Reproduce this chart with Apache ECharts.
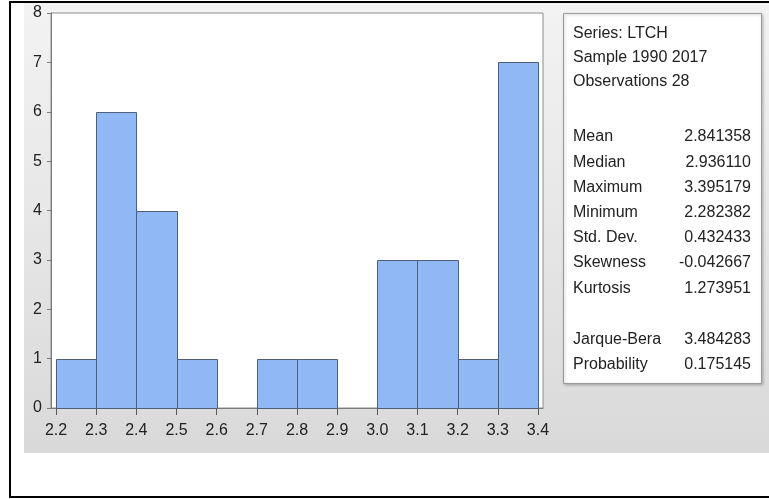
<!DOCTYPE html>
<html>
<head>
<meta charset="utf-8">
<title>LTCH histogram</title>
<script src="https://cdn.jsdelivr.net/npm/echarts@6/dist/echarts.min.js"></script>
<style>
  html, body { margin: 0; padding: 0; background: #ffffff; }
  #chart { width: 769px; height: 499px; }
</style>
</head>
<body>
<div id="chart"></div>
<script>
// Histogram bins (left edge, right edge) and observation counts
var binStart = [2.2, 2.3, 2.4, 2.5, 2.6, 2.7, 2.8, 2.9, 3.0, 3.1, 3.2, 3.3];
var binEnd   = [2.3, 2.4, 2.5, 2.6, 2.7, 2.8, 2.9, 3.0, 3.1, 3.2, 3.3, 3.4];
var counts   = [1, 6, 4, 1, 0, 1, 1, 0, 3, 3, 1, 7];

// Axis tick labels
var xTicks = [2.2, 2.3, 2.4, 2.5, 2.6, 2.7, 2.8, 2.9, 3.0, 3.1, 3.2, 3.3, 3.4];

// Descriptive statistics panel
var headerLines = ['Series: LTCH', 'Sample 1990 2017', 'Observations 28'];
var statNames  = ['Mean', 'Median', 'Maximum', 'Minimum', 'Std. Dev.', 'Skewness', 'Kurtosis'];
var statValues = ['2.841358', '2.936110', '3.395179', '2.282382', '0.432433', '-0.042667', '1.273951'];
var testNames  = ['Jarque-Bera', 'Probability'];
var testValues = ['3.484283', '0.175145'];

var chart = echarts.init(document.getElementById('chart'), null, { renderer: 'canvas' });

var binData = binStart.map(function (s, i) { return [s, binEnd[i], counts[i]]; });

var FONT = '"Liberation Sans", Arial, sans-serif';
var TEXT_COLOR = '#222222';

var graphics = [];

// gray panel behind the chart
graphics.push({
  type: 'rect', z: -10, silent: true,
  shape: { x: 24, y: 3, width: 760, height: 450 },
  style: {
    fill: new echarts.graphic.LinearGradient(0, 0, 0, 1, [
      { offset: 0, color: '#f3f3f3' },
      { offset: 1, color: '#d9d9d9' }
    ])
  }
});

// outer frame
graphics.push({
  type: 'rect', z: 50, silent: true,
  shape: { x: 10, y: 2, width: 800, height: 495 },
  style: { fill: null, stroke: '#000000', lineWidth: 2 }
});

// statistics box
graphics.push({
  type: 'rect', z: 5, silent: true,
  shape: { x: 563.5, y: 13.5, width: 198, height: 370 },
  style: {
    fill: '#ffffff', stroke: '#9a9a9a', lineWidth: 1,
    shadowBlur: 3, shadowOffsetX: 1, shadowOffsetY: 1, shadowColor: 'rgba(0,0,0,0.25)'
  }
});

function addText(str, x, y, align) {
  graphics.push({
    type: 'text', z: 6, silent: true,
    style: {
      text: str, x: x, y: y,
      font: '16px ' + FONT, fill: TEXT_COLOR,
      textAlign: align, textVerticalAlign: 'middle'
    }
  });
}

var LEFT_X = 573, RIGHT_X = 751;
headerLines.forEach(function (t, i) { addText(t, LEFT_X, 34 + i * 24, 'left'); });
statNames.forEach(function (t, i) {
  addText(t, LEFT_X, 137 + i * 25.2, 'left');
  addText(statValues[i], RIGHT_X, 137 + i * 25.2, 'right');
});
testNames.forEach(function (t, i) {
  addText(t, LEFT_X, 340 + i * 25, 'left');
  addText(testValues[i], RIGHT_X, 340 + i * 25, 'right');
});

var option = {
  backgroundColor: '#ffffff',
  animation: false,
  grid: {
    left: 51, top: 13, right: 226, bottom: 91,
    show: true, backgroundColor: '#ffffff',
    borderColor: '#8c8c8c', borderWidth: 1
  },
  xAxis: {
    type: 'value',
    min: 2.1875, max: 3.4125,
    splitLine: { show: false },
    axisLine: { show: true, onZero: false, lineStyle: { color: '#7a7a7a', width: 1 } },
    axisTick: {
      show: true, length: 7, inside: false,
      customValues: xTicks,
      lineStyle: { color: '#5a5a5a' }
    },
    axisLabel: {
      customValues: xTicks,
      formatter: function (v) { return v.toFixed(1); },
      color: TEXT_COLOR, fontFamily: FONT, fontSize: 16, margin: 15
    }
  },
  yAxis: {
    type: 'value',
    min: 0, max: 8, interval: 1,
    splitLine: { show: false },
    axisLine: { show: true, lineStyle: { color: '#7a7a7a', width: 1 } },
    axisTick: { show: true, length: 4, lineStyle: { color: '#7a7a7a' } },
    axisLabel: { color: TEXT_COLOR, fontFamily: FONT, fontSize: 16, margin: 9 }
  },
  series: [{
    type: 'custom',
    data: binData,
    encode: { x: [0, 1], y: 2 },
    clip: false,
    renderItem: function (params, api) {
      var c = api.value(2);
      if (!c) { return null; }
      var topLeft = api.coord([api.value(0), c]);
      var bottomRight = api.coord([api.value(1), 0]);
      return {
        type: 'rect',
        shape: {
          x: Math.round(topLeft[0]) + 0.5,
          y: Math.round(topLeft[1]) + 0.5,
          width: Math.round(bottomRight[0]) - Math.round(topLeft[0]),
          height: Math.round(bottomRight[1]) - Math.round(topLeft[1])
        },
        style: { fill: '#8fb8f5', stroke: '#4f5f78', lineWidth: 1 }
      };
    }
  }],
  graphic: { elements: graphics }
};

chart.setOption(option);
</script>
</body>
</html>
